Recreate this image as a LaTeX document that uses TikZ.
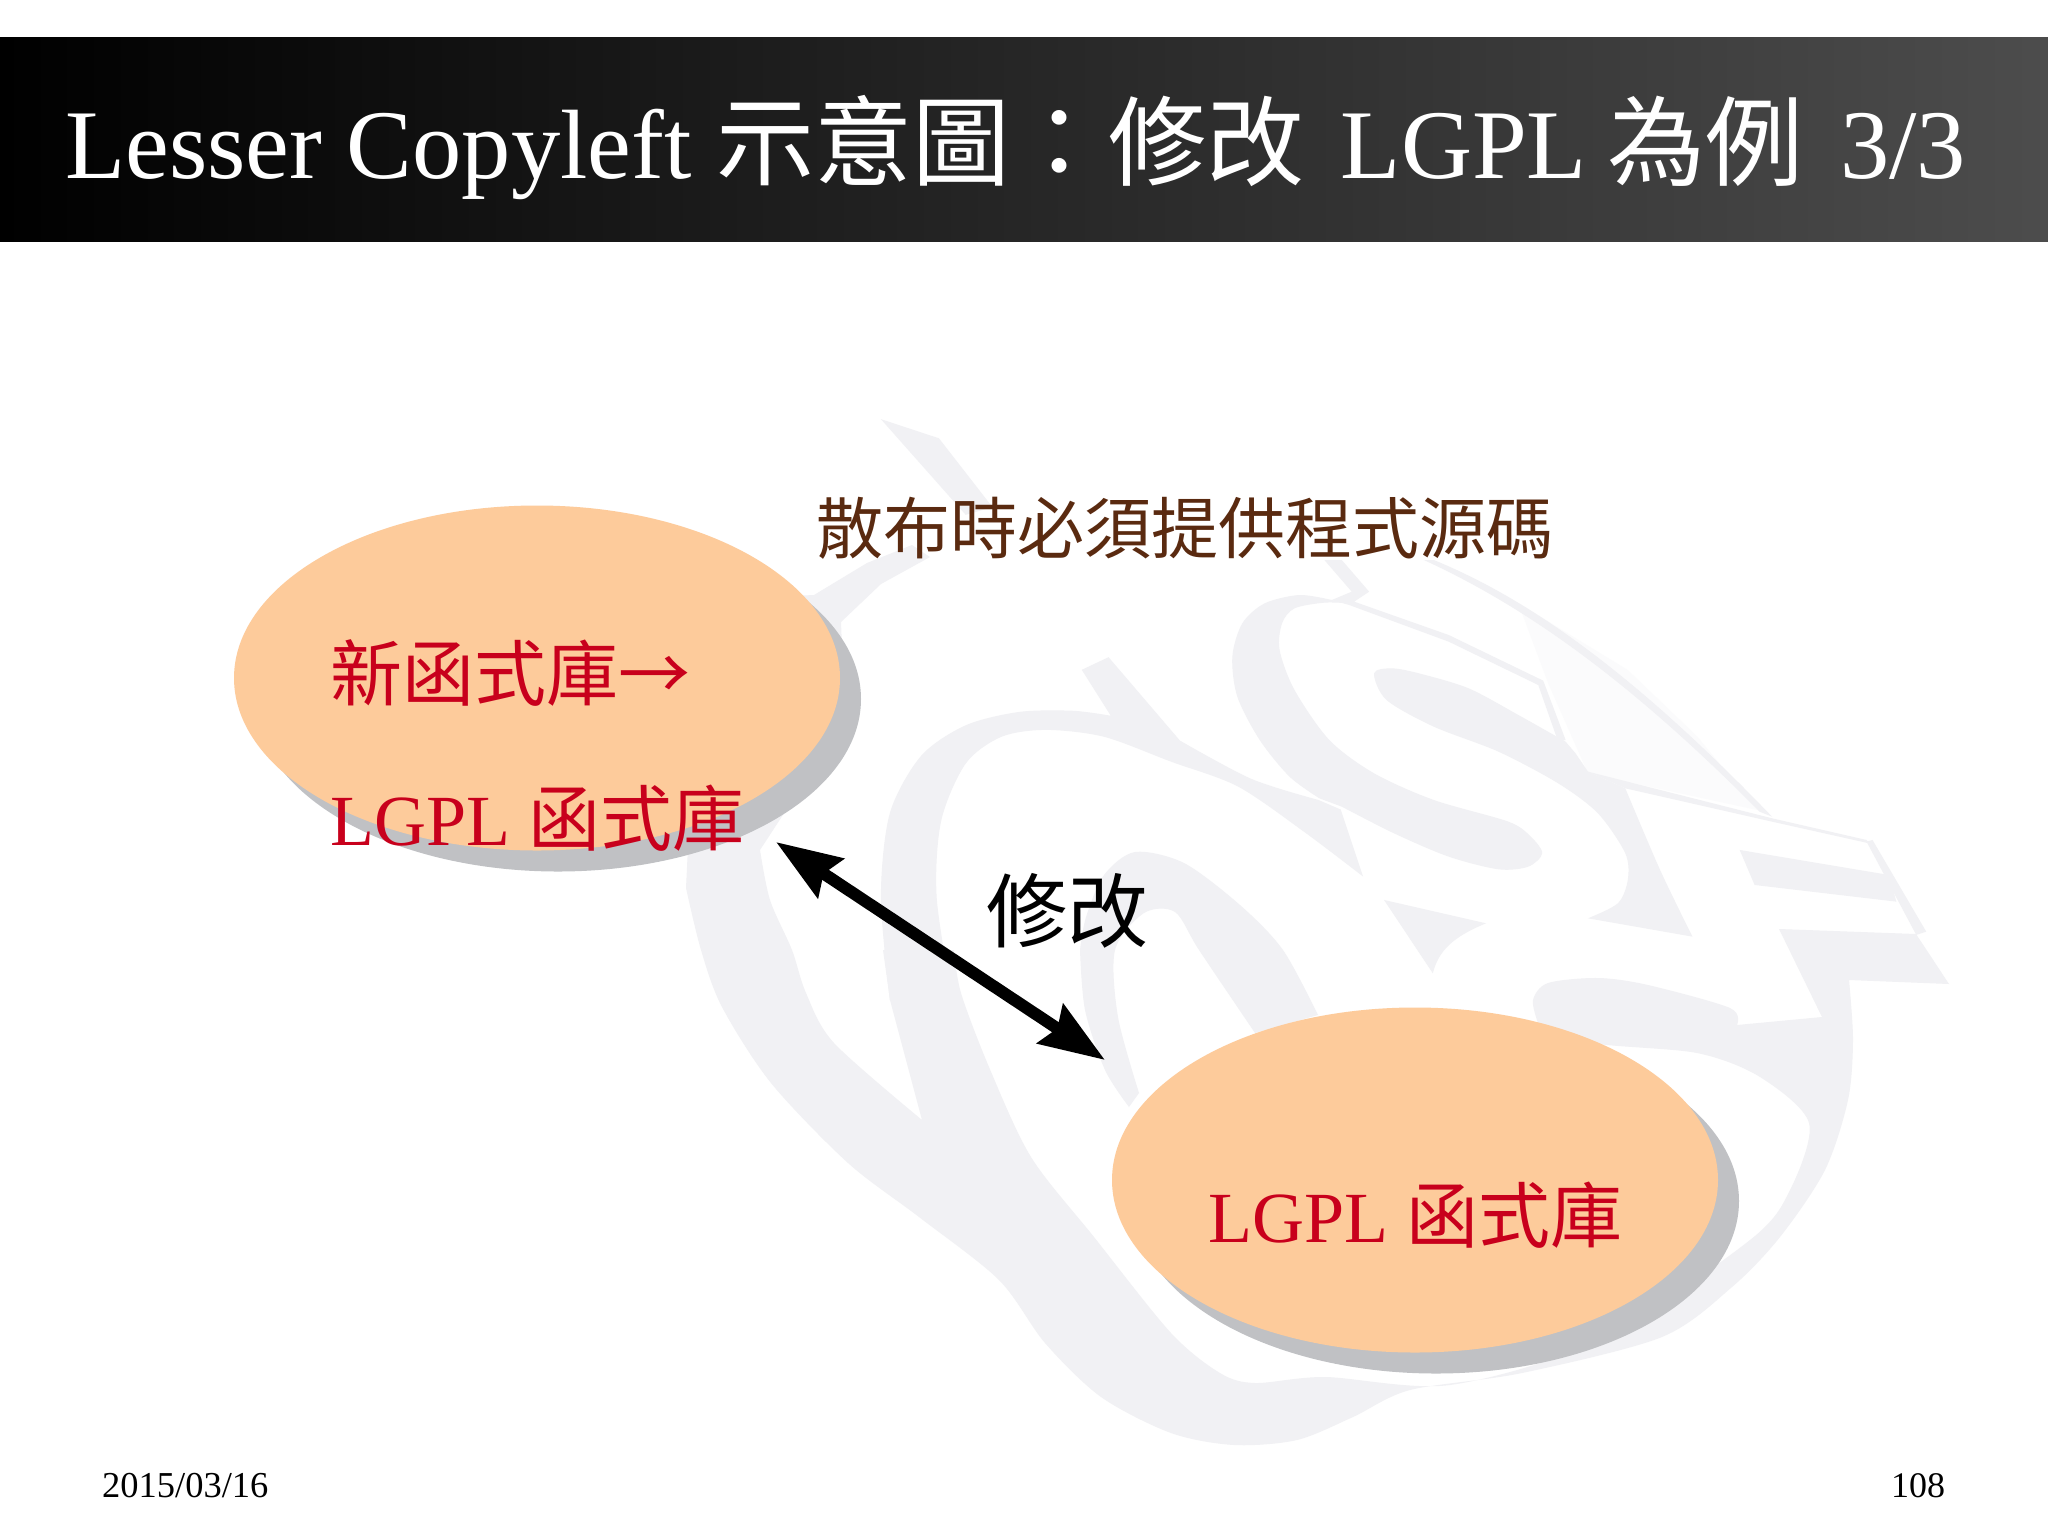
\documentclass[tikz,border=0pt]{standalone}
\usepackage{fontspec}
\setmainfont{Liberation Serif}
\newfontfamily\cjk{Noto Sans CJK TC}
\usetikzlibrary{arrows.meta,shapes.geometric}
\definecolor{wm}{HTML}{F1F1F4}
\definecolor{wmfaint}{HTML}{FBFBFC}
\definecolor{peach}{HTML}{FDCB9B}
\definecolor{shade}{HTML}{C0C1C4}
\definecolor{libred}{HTML}{C8001C}
\definecolor{brownt}{HTML}{5A2A10}
\tikzset{
  blobshape/.style={shape=ellipse,fill=peach,minimum width=606pt,minimum height=345pt,inner sep=0pt},
  blobshadow/.style={shape=ellipse,fill=shade,minimum width=606pt,minimum height=345pt,inner sep=0pt},
  lab/.style={inner sep=0pt,anchor=base west},
  redlab/.style={lab,text=libred,font=\fontsize{72}{72}\selectfont},
  modarrow/.style={line width=12pt,{Stealth[length=65pt,width=46pt,inset=8pt]}-{Stealth[length=65pt,width=46pt,inset=8pt]}}
}
\begin{document}
\begin{tikzpicture}[x=1pt,y=-1pt]
\useasboundingbox (0,0) rectangle (2048,1535);
\fill[white] (0,0) rectangle (2048,1535);
% ---- watermark: the outer swirl, in picture coordinates
\fill[wm] plot[smooth] coordinates {(686,888)(701,950)(722,1007)(771,1083)(848,1163)(919,1217)(999,1280)(1045,1343)(1101,1397)(1171,1433)(1234,1445)(1297,1440)(1353,1417)(1410,1390)(1522,1373)(1662,1337)(1732,1287)(1780,1237)(1825,1170)(1848,1100)(1853,1040)(1849,980)}
  -- (1949,984) -- (1916,934) -- (1779,929) -- (1822,1017) -- (1737,1025)
  -- plot[smooth] coordinates {(1737,1025)(1730,1008)(1648,985)(1598,978)(1548,983)(1533,1000)(1538,1023)}
  -- plot[smooth] coordinates {(1538,1023)(1592,1043)(1697,1053)(1760,1077)(1809,1123)(1790,1190)(1750,1240)(1600,1340)(1450,1385)(1325,1377)(1255,1383)(1220,1373)(1171,1333)(1094,1237)(1031,1157)(989,1067)(961,993)(954,950)}
  -- (883,950) -- (890,1000) -- (922,1120)
  -- plot[smooth] coordinates {(922,1120)(834,1043)(806,993)(792,950)(770,900)(760,850)}
  -- (845,720) -- (841,622) -- (881,584) -- (930,557) -- (912,545) -- (867,563) -- (814,595) -- (700,600) -- cycle;
% inner ring
\fill[wm] plot[smooth] coordinates {(1080,950)(1086,917)(1104,875)(1135,852)(1184,863)(1240,905)(1283,950)(1318,1015)}
  -- (1255,1033)
  -- plot[smooth] coordinates {(1255,1033)(1199,950)(1175,912)(1144,913)(1115,950)(1118,1017)(1139,1093)}
  -- (1129,1107)
  -- plot[smooth] coordinates {(1129,1107)(1105,1070)(1085,1010)(1080,950)} -- cycle;
% second ring and spike
\begin{scope}[shift={(680,400)},x=0.4464pt,y=-0.3827pt]
\fill[wm] (450,50) -- (580,100) -- (700,280) -- (640,300) -- cycle;
\fill[wm] plot[smooth] coordinates {(470,1568)(450,1300)(470,1080)(540,930)(640,850)(760,815)(880,812)(965,825)}
  -- (900,705) -- (960,672) -- (1120,890)
  -- plot[smooth] coordinates {(1120,890)(1280,990)(1430,1045)}
  -- (1480,1070) -- (1530,1245)
  -- plot[smooth] coordinates {(1530,1245)(1400,1130)(1250,1010)(1100,945)(950,880)(820,862)(720,880)(640,950)(585,1100)(575,1300)(610,1568)} -- cycle;
\end{scope}
% the S and the letter strokes
\begin{scope}[shift={(1200,560)},x=0.4974pt,y=-0.3333pt]
\fill[wmfaint] (700,370) -- (640,130) -- (860,330) -- (1000,530) -- (1120,750) -- (780,640) -- cycle;
\fill[wm] (470,0) .. controls (650,110) and (860,320) .. (1150,770) -- (1125,755) .. controls (850,340) and (640,130) .. (450,0) -- cycle;
\fill[wm] (250,0) -- (285,0) -- (340,95) -- (310,125) -- (500,225) -- (690,362) -- (735,540) -- (720,545) -- (680,375) -- (500,245) -- (300,135) -- (265,120) -- (305,95) -- cycle;
\fill[wm] plot[smooth] coordinates {(265,120)(200,105)(130,130)(85,190)(65,290)(75,410)(120,540)(180,650)(240,715)}
  -- (285,740)
  -- plot[smooth] coordinates {(285,740)(390,820)(500,890)(600,928)(660,920)(688,880)(665,830)(620,785)(470,720)(350,640)(260,540)(190,390)(160,270)(165,190)(190,145)(250,128)(300,130)} -- cycle;
\fill[wm] plot[smooth] coordinates {(735,545)(640,465)(540,385)(440,340)(385,325)(350,340)(375,420)(470,500)(600,575)(720,670)(800,760)(855,880)(860,960)(840,1030)(780,1075)}
  -- (990,1130)
  -- plot[smooth] coordinates {(990,1130)(925,930)(855,685)}
  -- (780,635) -- (755,580) -- cycle;
\fill[wm] (370,1020) -- (575,1090) .. controls (510,1130) and (480,1170) .. (468,1240) -- cycle;
\fill[wm] (780,635) -- (1150,775) -- (1340,840) -- (1345,850) -- (1150,785) -- (855,685) -- cycle;
\fill[wm] (1085,870) -- (1385,945) -- (1400,1025) -- (1115,975) -- cycle;
\fill[wm] (1340,845) -- (1352,840) -- (1460,1115) -- (1440,1125) -- cycle;
\end{scope}
% title bar
\fill[left color=black,right color=black!70!white,middle color=black!85!white] (0,37) rectangle (2048,241);
\node[lab,text=white,font=\fontsize{98.5}{98.5}\selectfont] (title) at (65,178) {Lesser Copyleft {\cjk\fontsize{98}{98}\selectfont 示意圖：修改}\hspace{12pt} LGPL\hspace{-4pt} {\cjk\fontsize{98}{98}\selectfont 為例}\hspace{12pt} 3/3};
% ellipses
\node[blobshadow] (shadowA) at (558,699) {};
\node[blobshape] (libA) at (537,678) {};
\node[blobshadow] (shadowB) at (1436,1201) {};
\node[blobshape] (libB) at (1415,1180) {};
% labels
\node[lab,text=brownt,font=\fontsize{67}{67}\selectfont\cjk] (src) at (816,553) {散布時必須提供程式源碼};
\node[redlab] (newlib) at (330,700) {\cjk 新函式庫→};
\node[redlab] (lgplA) at (330,845) {LGPL {\cjk 函式庫}};
\node[redlab] (lgplB) at (1208,1242) {LGPL {\cjk 函式庫}};
\node[lab,text=black,font=\fontsize{81}{81}\selectfont\cjk] (mod) at (986,941) {修改};
\node[lab,font=\fontsize{36.5}{36.5}\selectfont] (date) at (102,1497) {2015/03/16};
\node[lab,font=\fontsize{36}{36}\selectfont] (page) at (1891,1497) {108};
% arrow
\coordinate (tipA) at (776,842);
\coordinate (tipB) at (1105,1060);
\draw[modarrow] (tipA) -- (tipB);
\end{tikzpicture}
\end{document}
